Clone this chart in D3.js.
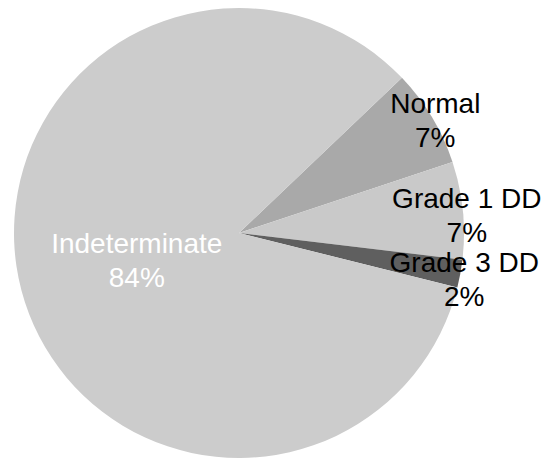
<!DOCTYPE html>
<html>
<head>
<meta charset="utf-8">
<script src="https://cdn.jsdelivr.net/npm/d3@7"></script>
<style>
  html, body { margin: 0; padding: 0; background: #ffffff; }
  svg { display: block; }
  text { font-family: "Liberation Sans", Arial, Helvetica, sans-serif; }
</style>
</head>
<body>
<svg id="chart" width="549" height="459"></svg>
<script>
// Diagnostic categories and their shares (percent)
const categories = ["Normal", "Grade 1 DD", "Grade 3 DD", "Indeterminate"];
const values = [7, 7, 2, 84];
const percentLabels = ["7%", "7%", "2%", "84%"];
const fills = ["#a9a9a9", "#c9c9c9", "#5f5f5f", "#cccccc"];
const insideLabel = [false, false, false, true];

const width = 549, height = 459;
const cx = 239, cy = 233, radius = 225;
const startDeg = 46.4;
const fontSize = 28, lineGap = 34;

const svg = d3.select("#chart");
const g = svg.append("g").attr("transform", `translate(${cx},${cy})`);

const data = categories.map((c, i) => ({ name: c, value: values[i], pct: percentLabels[i], fill: fills[i], inside: insideLabel[i] }));

const start = startDeg * Math.PI / 180;
const pie = d3.pie().sort(null).value(d => d.value)
  .startAngle(start).endAngle(start + 2 * Math.PI);
const arcs = pie(data);

const arc = d3.arc().innerRadius(0).outerRadius(radius);
const outerLabelArc = d3.arc().innerRadius(radius + 4).outerRadius(radius + 4);
const innerLabelArc = d3.arc().innerRadius(radius * 0.47).outerRadius(radius * 0.47);

g.selectAll("path.slice")
  .data(arcs)
  .join("path")
  .attr("class", "slice")
  .attr("d", arc)
  .attr("fill", d => d.data.fill);

// Label anchor points: block middle positions
const labels = arcs.map(d => {
  const c = d.data.inside ? innerLabelArc.centroid(d) : outerLabelArc.centroid(d);
  return { d, x: c[0], y: c[1] + (d.data.inside ? 0 : 5) };
});

// Push outside labels apart vertically so the two-line blocks do not collide
const minSpacing = 64;
const outside = labels.filter(l => !l.d.data.inside).sort((a, b) => a.y - b.y);
for (let i = 1; i < outside.length; i++) {
  if (outside[i].y - outside[i - 1].y < minSpacing) {
    outside[i].y = outside[i - 1].y + minSpacing;
  }
}

const lbl = g.selectAll("text.label")
  .data(labels)
  .join("text")
  .attr("class", "label")
  .attr("text-anchor", "middle")
  .attr("font-size", fontSize)
  .attr("fill", l => l.d.data.inside ? "#ffffff" : "#000000");

lbl.append("tspan")
  .attr("x", l => l.x)
  .attr("y", l => l.y - 7)
  .text(l => l.d.data.name);

lbl.append("tspan")
  .attr("x", l => l.x)
  .attr("y", l => l.y - 7 + lineGap)
  .text(l => l.d.data.pct);
</script>
</body>
</html>
